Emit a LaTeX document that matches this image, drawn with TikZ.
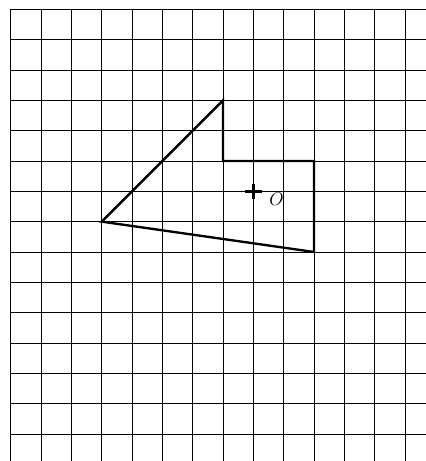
\documentclass[tikz,border=0pt]{standalone}
\usepackage{amsmath,amssymb}
\usepackage{xcolor}
\usepackage{tikz}
\usetikzlibrary{calc}
\tikzset{
  gridl/.style={line width=0.8pt,black},
  fig/.style={line width=2.2pt,black,line join=miter},
  cross/.style={line width=2.4pt,black}
}

\begin{document}
\begin{tikzpicture}
\useasboundingbox (-0.353,-14.89) rectangle (13.69,0.307);
\draw[gridl,step=1] (0,-14.89) grid (13.69,0);
\draw[fig] (7,-3)--(7,-5)--(10,-5)--(10,-8)--(3,-7)--cycle;
\coordinate (o) at (8,-6);
\draw[cross] ($(o)+(-0.27,0)$)--($(o)+(0.27,0)$);
\draw[cross] ($(o)+(0,-0.25)$)--($(o)+(0,0.25)$);
\node[font=\fontsize{19}{23}\selectfont] (lab) at (8.76,-6.27) {$O$};
\end{tikzpicture}
\end{document}
